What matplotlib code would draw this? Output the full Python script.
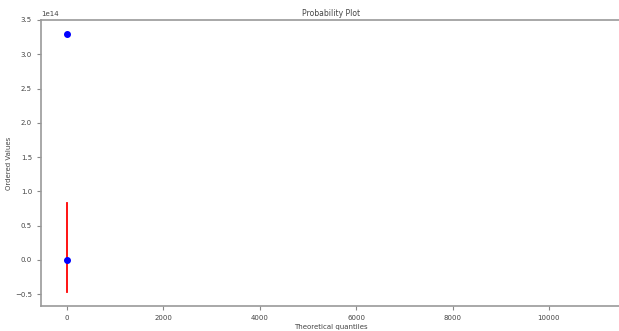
import matplotlib
matplotlib.use('Agg')
import matplotlib.pyplot as plt

# probability plot values (scale 1e14)
osm = [0.0, 0.0]                  # theoretical quantiles
osr = [0.0, 3.30e14]              # ordered values
fit_x = [0.0, 0.0]
fit_y = [-0.477e14, 0.826e14]

fig = plt.figure(figsize=(6.19, 3.31), dpi=100)
ax = fig.add_axes([41/619, 1-306/331, 1-41/619+0.002, (306-20)/331])
ax.plot(fit_x, fit_y, color='red', lw=1.3, zorder=2)
ax.plot(osm, osr, 'bo', ms=4, zorder=3)
ax.set_xlim(-540, 11480)
ax.set_ylim(-0.675e14, 3.5e14)
ax.set_xticks([0, 2000, 4000, 6000, 8000, 10000])
ax.tick_params(labelsize=5, color='#888888', length=3, width=0.8, labelcolor='#444444')
for s in ax.spines.values():
    s.set_color('#999999')
    s.set_linewidth(1.2)
ax.yaxis.get_offset_text().set_fontsize(5)
ax.yaxis.get_offset_text().set_color('#444444')
ax.set_title('Probability Plot', fontsize=5.5, color='#444444', pad=3)
ax.set_xlabel('Theoretical quantiles', fontsize=5, color='#444444', labelpad=2)
ax.set_ylabel('Ordered Values', fontsize=5, color='#444444', labelpad=2)
fig.savefig('out.png', dpi=100)
